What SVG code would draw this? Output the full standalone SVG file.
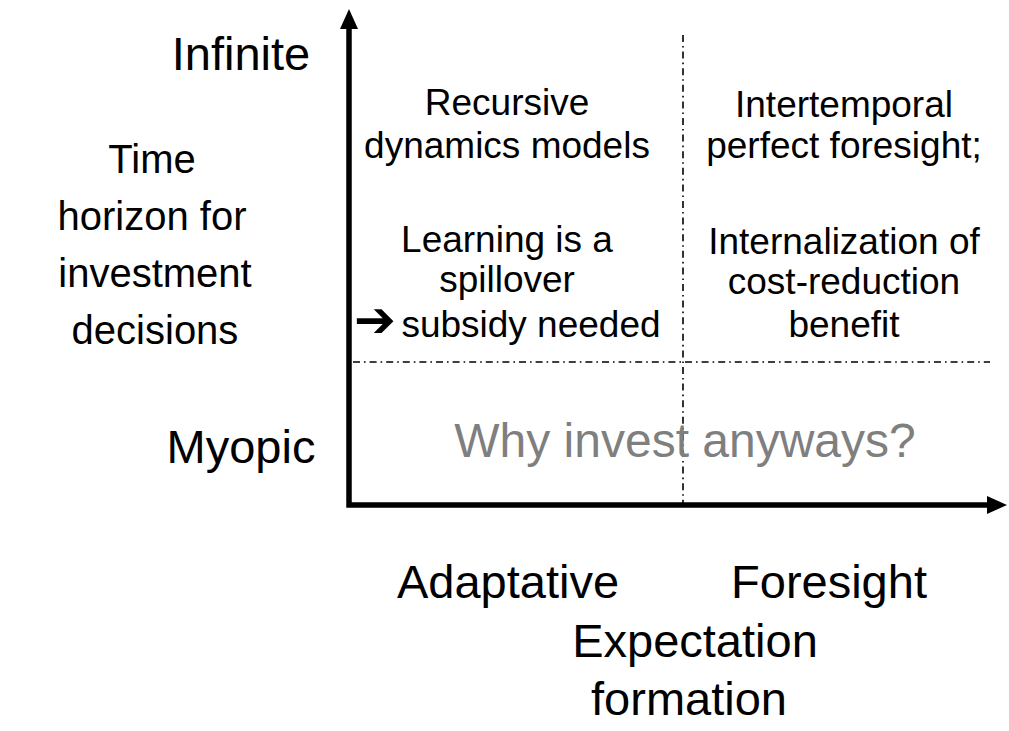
<svg xmlns="http://www.w3.org/2000/svg" width="1009" height="731" viewBox="0 0 1009 731">
  <defs>
    <marker id="axisHead" viewBox="0 0 20 20" markerWidth="20" markerHeight="20" refX="1" refY="10" orient="auto-start-reverse" markerUnits="userSpaceOnUse">
      <path d="M0,1 L20,10 L0,19 z" fill="#000"/>
    </marker>
    <style>
      text { font-family: "Liberation Sans", Arial, sans-serif; fill: #000; text-anchor: middle; }
      .axis-label { font-size: 47px; }
      .side-label { font-size: 40px; }
      .cell { font-size: 37px; }
      .muted { fill: #7f7f7f; font-size: 48px; }
      .axis { fill: none; stroke: #000; stroke-width: 5.5; stroke-linejoin: miter; }
      .divider { fill: none; stroke: #000; stroke-width: 1.6; stroke-dasharray: 7 4 1.6 4; }
      .glyph { font-family: "DejaVu Sans", sans-serif; font-weight: bold; font-size: 50px; text-anchor: start; }
    </style>
  </defs>
  <rect width="1009" height="731" fill="#fff"/>

  <!-- axes and quadrant dividers -->
  <g id="connectors">
    <line class="divider" x1="683" y1="35" x2="683" y2="503"/>
    <line class="divider" x1="353" y1="362" x2="990" y2="362"/>
    <path class="axis" d="M349,28 L349,505 L988,505" marker-start="url(#axisHead)" marker-end="url(#axisHead)"/>
  </g>

  <!-- vertical axis labels -->
  <g id="label-infinite">
    <text class="axis-label" x="241" y="70" font-size="44">Infinite</text>
  </g>
  <g id="label-myopic">
    <text class="axis-label" x="241" y="463">Myopic</text>
  </g>
  <g id="label-time-horizon">
    <text class="side-label" x="152" y="173">Time</text>
    <text class="side-label" x="152" y="230">horizon for</text>
    <text class="side-label" x="155" y="287">investment</text>
    <text class="side-label" x="155" y="344">decisions</text>
  </g>

  <!-- horizontal axis labels -->
  <g id="label-adaptative">
    <text class="axis-label" x="508" y="598">Adaptative</text>
  </g>
  <g id="label-foresight">
    <text class="axis-label" x="829" y="598">Foresight</text>
  </g>
  <g id="label-expectation">
    <text class="axis-label" x="695" y="657">Expectation</text>
    <text class="axis-label" x="689" y="715">formation</text>
  </g>

  <!-- quadrant contents -->
  <g id="cell-adaptive-infinite">
    <text class="cell" x="507" y="115">Recursive</text>
    <text class="cell" x="507" y="158">dynamics models</text>
    <text class="cell" x="507" y="252">Learning is a</text>
    <text class="cell" x="507" y="292">spillover</text>
    <text class="cell" y="337"><tspan class="glyph" x="354">➔</tspan><tspan x="531">subsidy needed</tspan></text>
  </g>
  <g id="cell-foresight-infinite">
    <text class="cell" x="844" y="117">Intertemporal</text>
    <text class="cell" x="844" y="158">perfect foresight;</text>
    <text class="cell" x="844" y="254">Internalization of</text>
    <text class="cell" x="844" y="294">cost-reduction</text>
    <text class="cell" x="844" y="337">benefit</text>
  </g>
  <g id="cell-myopic">
    <text class="muted" x="685" y="457">Why invest anyways?</text>
  </g>
</svg>
